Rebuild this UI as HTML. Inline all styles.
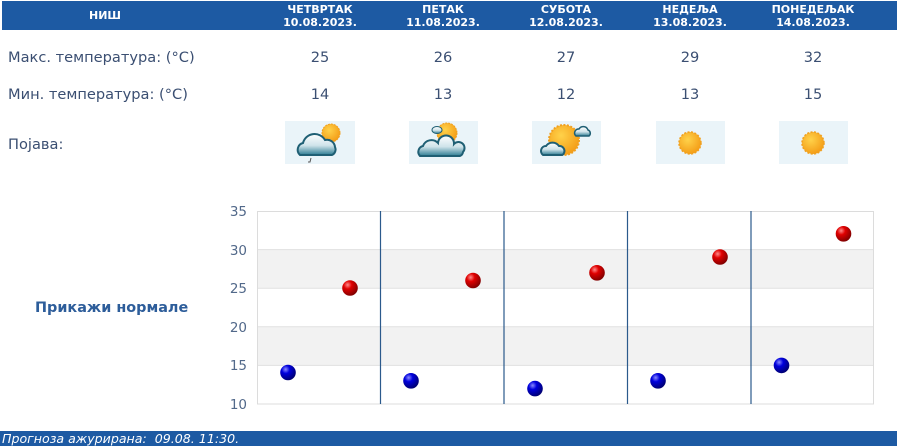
<!DOCTYPE html>
<html><head><meta charset="utf-8">
<style>
html,body{margin:0;padding:0;background:#fff;width:900px;height:446px;overflow:hidden;position:relative;font-family:"DejaVu Sans","Liberation Sans",sans-serif;}
.hdr{position:absolute;left:2px;top:1px;width:895px;height:29px;background:#1d5aa3;}
.h{position:absolute;color:#fff;font-weight:bold;font-size:11px;line-height:13px;text-align:center;width:120px;}
.lbl{position:absolute;left:8px;color:#3b4f72;font-size:14.6px;}
.val{position:absolute;color:#3b4f72;font-size:14.6px;width:60px;text-align:center;}
.norm{position:absolute;left:35px;top:300px;color:#2d5d9a;font-weight:bold;font-size:14.4px;}
.foot{position:absolute;left:0;top:431px;width:897px;height:15px;background:#1d5aa3;color:#fff;font-style:italic;font-size:12.6px;line-height:15px;padding-left:2px;box-sizing:border-box;}
</style></head><body>
<div class="hdr"></div>
<div class="h" style="left:45px;top:9px;">НИШ</div>
<div class="h" style="left:260px;top:3px;">ЧЕТВРТАК<br>10.08.2023.</div>
<div class="h" style="left:383px;top:3px;">ПЕТАК<br>11.08.2023.</div>
<div class="h" style="left:506px;top:3px;">СУБОТА<br>12.08.2023.</div>
<div class="h" style="left:630px;top:3px;">НЕДЕЉА<br>13.08.2023.</div>
<div class="h" style="left:753px;top:3px;">ПОНЕДЕЉАК<br>14.08.2023.</div>

<div class="lbl" style="top:49px;">Макс. температура: (°C)</div>
<div class="lbl" style="top:86px;">Мин. температура: (°C)</div>
<div class="lbl" style="top:136px;">Појава:</div>

<div class="val" style="left:290px;top:49px;">25</div>
<div class="val" style="left:413px;top:49px;">26</div>
<div class="val" style="left:536px;top:49px;">27</div>
<div class="val" style="left:660px;top:49px;">29</div>
<div class="val" style="left:783px;top:49px;">32</div>
<div class="val" style="left:290px;top:86px;">14</div>
<div class="val" style="left:413px;top:86px;">13</div>
<div class="val" style="left:536px;top:86px;">12</div>
<div class="val" style="left:660px;top:86px;">13</div>
<div class="val" style="left:783px;top:86px;">15</div>

<svg width="900" height="446" style="position:absolute;left:0;top:0" xmlns="http://www.w3.org/2000/svg">
<defs>
<radialGradient id="sun" cx="0.4" cy="0.35" r="0.7"><stop offset="0" stop-color="#ffd24a"/><stop offset="1" stop-color="#f39a14"/></radialGradient>
<linearGradient id="cl" x1="0" y1="0" x2="0" y2="1"><stop offset="0" stop-color="#ffffff"/><stop offset="0.55" stop-color="#cfe3ea"/><stop offset="1" stop-color="#2d7c93"/></linearGradient>
<radialGradient id="rb" cx="0.35" cy="0.3" r="0.75"><stop offset="0" stop-color="#ff8a8a"/><stop offset="0.35" stop-color="#e00000"/><stop offset="1" stop-color="#7a0000"/></radialGradient>
<radialGradient id="bb" cx="0.35" cy="0.3" r="0.75"><stop offset="0" stop-color="#8a8aff"/><stop offset="0.35" stop-color="#0000dd"/><stop offset="1" stop-color="#00006a"/></radialGradient>
</defs>
<!-- icon backgrounds -->
<rect x="285" y="121" width="70" height="43" fill="#eaf4f9"/>
<rect x="409" y="121" width="69" height="43" fill="#eaf4f9"/>
<rect x="532" y="121" width="69" height="43" fill="#eaf4f9"/>
<rect x="656" y="121" width="69" height="43" fill="#eaf4f9"/>
<rect x="779" y="121" width="69" height="43" fill="#eaf4f9"/>
<!-- day1 -->
<circle cx="331" cy="133" r="9" fill="url(#sun)" stroke="#f0a020" stroke-dasharray="2 1"/>
<path d="M300,155 a7,7 0 0 1 3,-12 a12,12 0 0 1 22,-3 a8,8 0 0 1 10,7 a6,6 0 0 1 -3,8 z" fill="url(#cl)" stroke="#1f5f74" stroke-width="2"/>
<path d="M311,158 l-1,4 l-2,0" stroke="#555" fill="none" stroke-width="1"/>
<!-- day2 -->
<circle cx="447" cy="133" r="10" fill="url(#sun)" stroke="#f0a020" stroke-dasharray="2 1"/>
<ellipse cx="437" cy="130" rx="5" ry="3.5" fill="url(#cl)" stroke="#1f5f74"/>
<path d="M420,156 a6,6 0 0 1 3,-10 a9,9 0 0 1 15,-3 a8,8 0 0 1 16,1 a6,6 0 0 1 9,8 a5,5 0 0 1 -3,4 z" fill="url(#cl)" stroke="#1f5f74" stroke-width="2"/>
<!-- day3 -->
<circle cx="564" cy="140" r="15" fill="url(#sun)" stroke="#f0a020" stroke-width="2" stroke-dasharray="2 1.5"/>
<path d="M576,136 a4,4 0 0 1 3,-7 a5,5 0 0 1 9,1 a3.5,3.5 0 0 1 1,6 z" fill="url(#cl)" stroke="#1f5f74" stroke-width="1.5"/>
<path d="M543,155 a5,5 0 0 1 3,-9 a8,8 0 0 1 13,0 a5,5 0 0 1 5,7 a3,3 0 0 1 -2,2 z" fill="url(#cl)" stroke="#1f5f74" stroke-width="2"/>
<!-- day4/5 -->
<circle cx="690" cy="143" r="11" fill="url(#sun)" stroke="#f0a020" stroke-width="1.5" stroke-dasharray="2 1.5"/>
<circle cx="813" cy="143" r="11" fill="url(#sun)" stroke="#f0a020" stroke-width="1.5" stroke-dasharray="2 1.5"/>

<!-- chart -->
<rect x="257" y="249.6" width="616" height="38.6" fill="#f2f2f2"/>
<rect x="257" y="326.8" width="616" height="38.6" fill="#f2f2f2"/>
<g stroke="#e0e0e0" stroke-width="1">
<line x1="257" y1="249.6" x2="873" y2="249.6"/>
<line x1="257" y1="288.2" x2="873" y2="288.2"/>
<line x1="257" y1="326.8" x2="873" y2="326.8"/>
<line x1="257" y1="365.4" x2="873" y2="365.4"/>
</g>
<rect x="257.5" y="211.5" width="616" height="192.5" fill="none" stroke="#dcdcdc"/>
<g stroke="#2b5a8c" stroke-width="1.2">
<line x1="380.5" y1="211" x2="380.5" y2="404"/>
<line x1="504" y1="211" x2="504" y2="404"/>
<line x1="627.5" y1="211" x2="627.5" y2="404"/>
<line x1="751" y1="211" x2="751" y2="404"/>
</g>
<g font-family="DejaVu Sans, Liberation Sans, sans-serif" font-size="13.5" fill="#52698a" text-anchor="end">
<text x="247" y="216">35</text>
<text x="247" y="255">30</text>
<text x="247" y="293">25</text>
<text x="247" y="332">20</text>
<text x="247" y="370">15</text>
<text x="247" y="409">10</text>
</g>
<g>
<circle cx="288" cy="372.5" r="7.8" fill="url(#bb)"/>
<circle cx="411" cy="380.8" r="7.8" fill="url(#bb)"/>
<circle cx="535" cy="388.6" r="7.8" fill="url(#bb)"/>
<circle cx="658" cy="380.8" r="7.8" fill="url(#bb)"/>
<circle cx="781.5" cy="365.4" r="7.8" fill="url(#bb)"/>
<circle cx="350" cy="288" r="7.8" fill="url(#rb)"/>
<circle cx="473" cy="280.5" r="7.8" fill="url(#rb)"/>
<circle cx="597" cy="272.8" r="7.8" fill="url(#rb)"/>
<circle cx="720" cy="257" r="7.8" fill="url(#rb)"/>
<circle cx="843.5" cy="233.8" r="7.8" fill="url(#rb)"/>
</g>
</svg>

<div class="norm">Прикажи нормале</div>
<div class="foot">Прогноза ажурирана:&nbsp; 09.08. 11:30.</div>
</body></html>
